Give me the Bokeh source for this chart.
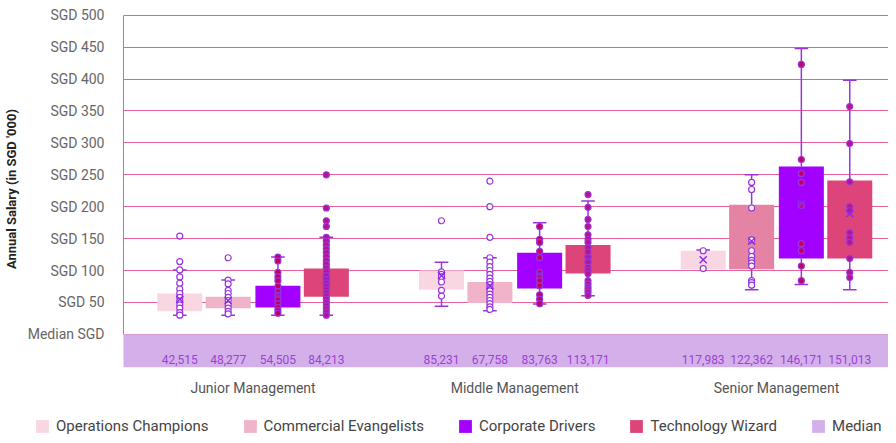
import math
from bokeh.plotting import figure
from bokeh.layouts import column
from bokeh.models import (FixedTicker, Legend, LegendItem, ColumnDataSource, Range1d)
from bokeh.core.properties import value
from bokeh.embed import file_html
from bokeh.resources import INLINE

NaN = float("nan")

# ---------------- data ----------------
groups = ["Junior Management", "Middle Management", "Senior Management"]
series = ["Operations Champions", "Commercial Evangelists", "Corporate Drivers", "Technology Wizard"]
y_ticks = [0, 50, 100, 150, 200, 250, 300, 350, 400, 450, 500]
y_tick_labels = ["Median SGD", "SGD 50", "SGD 100", "SGD 150", "SGD 200", "SGD 250",
                 "SGD 300", "SGD 350", "SGD 400", "SGD 450", "SGD 500"]

# box quartiles [group][series] in SGD '000
q1 = [[36, 41, 42, 59],
      [70, 49, 72, 95.5],
      [102, 102, 119, 119]]
q3 = [[64, 59, 76, 103],
      [100, 82, 128, 140],
      [131, 203, 263, 241]]
whisker_lo = [[30, 30, 30, 30],
              [44, 37, 47.5, 60.5],
              [NaN, 70, 78, 70]]
whisker_hi = [[101, 85, 121, 152],
              [113, 120, 175, 209],
              [132, 250, 448, 398]]
means = [[55, 53, 63, 85],
         [92, 76, 94.5, 118],
         [117, 146, 204, 189]]
median_labels = [["42,515", "48,277", "54,505", "84,213"],
                 ["85,231", "67,758", "83,763", "113,171"],
                 ["117,983", "122,362", "146,171", "151,013"]]

points = [
    [  # Junior
        [154, 114, 101, 90, 80, 71, 64, 58, 52, 46, 41, 34, 30],
        [120, 85, 79, 69, 64, 58, 53, 46, 41, 36, 32],
        [121, 115, 97, 90, 84, 75, 67, 61, 54, 48, 42, 37, 33],
        [250, 198, 178, 169, 152, 146, 140, 134, 128, 122, 116, 110, 104, 98, 92,
         86, 80, 75, 70, 65, 60, 55, 50, 45, 40, 35, 30],
    ],
    [  # Middle
        [178, 98, 94, 90, 82, 69, 60],
        [240, 200, 152, 120, 113, 106, 100, 94, 88, 83, 78, 73, 68, 63, 58, 53, 48, 43, 39],
        [169, 149, 144, 130, 120, 97, 90, 84, 76, 62, 55, 48],
        [219, 199, 180, 169, 156, 149, 144, 136, 129, 120, 113, 105, 100, 95, 84, 79, 74, 70, 66, 61],
    ],
    [  # Senior
        [131, 103],
        [238, 227, 198, 148, 131, 122, 116, 112, 107, 84, 81, 77],
        [423, 274, 252, 238, 202, 142, 131, 107, 84],
        [357, 299, 239, 200, 194, 159, 151, 144, 119, 97, 89],
    ],
]

# ---------------- styling ----------------
series_colors = ["#f8d7e3", "#f0b3c9", "#a200ff", "#dd4479"]
box_colors = [["#f8d7e3", "#f0b3c9", "#a200ff", "#dd4479"],
              ["#f8d7e3", "#f0b3c9", "#a200ff", "#dd4479"],
              ["#f8d7e3", "#e583a4", "#a200ff", "#dd4479"]]
point_fill = ["white", "white", "#c3005f", "#b5148e"]
median_color = "#d4b0ea"
grid_color = "#e3639a"
purple = "#9a34dc"
FONT = "Roboto"

offsets = [-0.28, -0.095, 0.095, 0.28]
box_w = 0.172
cap_hw = 0.026

p = figure(width=888, height=405, output_backend="svg", toolbar_location=None,
           x_range=Range1d(-0.495, 2.428), y_range=Range1d(-52, 507.5),
           min_border_left=123, min_border_right=0, min_border_top=10, min_border_bottom=38)
p.frame_align = False
p.outline_line_color = None
p.background_fill_color = "white"
p.border_fill_color = "white"

# median strip
p.quad(left=-1, right=4, bottom=-52, top=0, fill_color=median_color, line_color=None)

for si in range(4):
    xs = [g + offsets[si] for g in range(3)]
    src = ColumnDataSource(dict(
        x=xs,
        top=[q3[g][si] for g in range(3)],
        bottom=[q1[g][si] for g in range(3)],
        color=[box_colors[g][si] for g in range(3)],
    ))
    p.vbar(x="x", top="top", bottom="bottom", width=box_w, fill_color="color",
           line_color=None, source=src)

# whiskers
wx0, wy0, wx1, wy1 = [], [], [], []
for g in range(3):
    for si in range(4):
        x = g + offsets[si]
        hi, lo = whisker_hi[g][si], whisker_lo[g][si]
        wx0 += [x, x, x - cap_hw]
        wy0 += [q3[g][si], lo, hi]
        wx1 += [x, x, x + cap_hw]
        wy1 += [hi, q1[g][si], hi]
        if not math.isnan(lo):
            wx0.append(x - cap_hw); wy0.append(lo); wx1.append(x + cap_hw); wy1.append(lo)
p.segment(x0=wx0, y0=wy0, x1=wx1, y1=wy1, line_color=purple, line_width=1.5)

# points
for si in range(4):
    px, py = [], []
    for g in range(3):
        for v in points[g][si]:
            px.append(g + offsets[si]); py.append(v)
    p.scatter(px, py, marker="circle", size=6, fill_color=point_fill[si],
              line_color=purple, line_width=1.2)

# means
mx, my = [], []
for g in range(3):
    for si in range(4):
        mx.append(g + offsets[si]); my.append(means[g][si])
p.scatter(mx, my, marker="x", size=10, line_color="#8a2be2", line_width=1.4)

# median labels
tx, tt = [], []
for g in range(3):
    for si in range(4):
        tx.append(g + offsets[si]); tt.append(median_labels[g][si])
p.text(x=tx, y=[-38.7] * len(tx), text=tt, text_align="center", text_baseline="alphabetic",
       text_font=value(FONT), text_font_size="12px", text_color="#9b42d4")

# axes
p.xgrid.visible = False
p.ygrid.ticker = FixedTicker(ticks=y_ticks)
p.ygrid.grid_line_color = grid_color
p.ygrid.grid_line_width = 1

p.yaxis.ticker = FixedTicker(ticks=y_ticks)
p.yaxis.major_label_overrides = {t: l for t, l in zip(y_ticks, y_tick_labels)}
p.yaxis.bounds = (0, 500)
p.yaxis.axis_line_color = grid_color
p.yaxis.major_tick_line_color = None
p.yaxis.minor_tick_line_color = None
p.yaxis.major_label_standoff = 13
p.yaxis.major_label_text_font = FONT
p.yaxis.major_label_text_font_size = "14px"
p.yaxis.major_label_text_color = "#666666"

p.xaxis.ticker = FixedTicker(ticks=[0, 1, 2])
p.xaxis.major_label_overrides = {i: g for i, g in enumerate(groups)}
p.xaxis.axis_line_color = None
p.xaxis.major_tick_line_color = None
p.xaxis.minor_tick_line_color = None
p.xaxis.major_label_standoff = 6
p.xaxis.major_label_text_font = FONT
p.xaxis.major_label_text_font_size = "14px"
p.xaxis.major_label_text_color = "#555555"

# y title
p.yaxis.axis_label = "Annual Salary (in SGD '000)"
p.yaxis.axis_label_text_font = FONT
p.yaxis.axis_label_text_font_size = "13px"
p.yaxis.axis_label_text_font_style = "bold"
p.yaxis.axis_label_text_color = "#222222"
p.yaxis.axis_label_standoff = 6

# ---------------- legend strip (own figure) ----------------
lg = figure(width=888, height=30, output_backend="svg", toolbar_location=None,
            x_range=Range1d(0, 1), y_range=Range1d(0, 1),
            x_axis_location=None, y_axis_location=None,
            min_border_left=0, min_border_right=0, min_border_top=0, min_border_bottom=0)
lg.frame_align = False
lg.outline_line_color = None
lg.xgrid.visible = False
lg.ygrid.visible = False
leg_renderers = []
for c in series_colors + [median_color]:
    # swatch-only renderers, their single quad lies outside the visible range
    leg_renderers.append(lg.quad(left=[5], right=[6], bottom=[5], top=[6],
                                 fill_color=c, line_color=None))
items = [LegendItem(label=s, renderers=[leg_renderers[i]]) for i, s in enumerate(series)]
items.append(LegendItem(label="Median", renderers=[leg_renderers[4]]))
legend = Legend(items=items, orientation="horizontal", location=(34, 0),
                border_line_color=None, background_fill_alpha=0, padding=0, margin=0,
                spacing=33, label_standoff=6, glyph_width=16, glyph_height=16, label_height=16,
                label_text_font=FONT, label_text_font_size="15px", label_text_color="#444444")
lg.add_layout(legend)

layout = column(p, lg, spacing=0)
open("out.html", "w").write(file_html(layout, INLINE))
